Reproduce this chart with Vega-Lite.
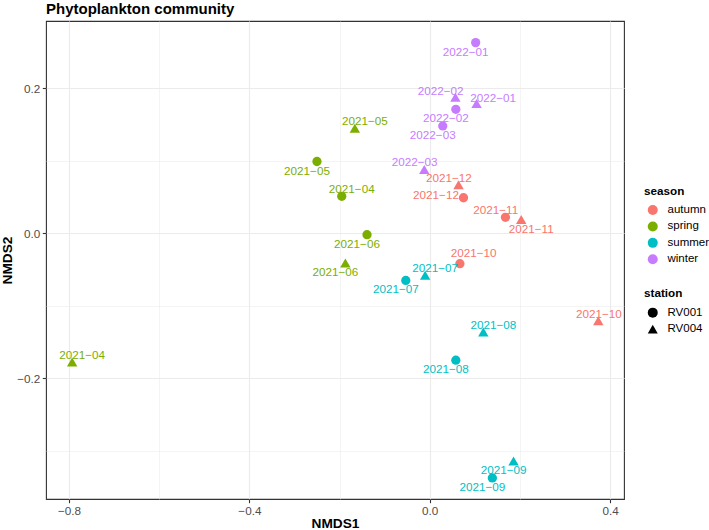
{
  "$schema": "https://vega.github.io/schema/vega-lite/v6.json",
  "width": 578,
  "height": 478,
  "autosize": {"type": "none"},
  "padding": {"left": 46, "top": 21, "right": 85, "bottom": 31},
  "background": "white",
  "title": {
    "text": "Phytoplankton community",
    "anchor": "start",
    "frame": "group",
    "orient": "top",
    "fontSize": 15,
    "fontWeight": "bold",
    "color": "#000000",
    "baseline": "alphabetic",
    "offset": -8
  },
  "data": {
    "values": [
      {"station": "RV001", "season": "spring", "month": "2021−04", "NMDS1": -0.195, "NMDS2": 0.051},
      {"station": "RV001", "season": "spring", "month": "2021−05", "NMDS1": -0.250, "NMDS2": 0.099},
      {"station": "RV001", "season": "spring", "month": "2021−06", "NMDS1": -0.139, "NMDS2": -0.002},
      {"station": "RV001", "season": "summer", "month": "2021−07", "NMDS1": -0.053, "NMDS2": -0.065},
      {"station": "RV001", "season": "summer", "month": "2021−08", "NMDS1": 0.058, "NMDS2": -0.175},
      {"station": "RV001", "season": "summer", "month": "2021−09", "NMDS1": 0.139, "NMDS2": -0.3375},
      {"station": "RV001", "season": "autumn", "month": "2021−10", "NMDS1": 0.067, "NMDS2": -0.042},
      {"station": "RV001", "season": "autumn", "month": "2021−11", "NMDS1": 0.168, "NMDS2": 0.022},
      {"station": "RV001", "season": "autumn", "month": "2021−12", "NMDS1": 0.075, "NMDS2": 0.049},
      {"station": "RV001", "season": "winter", "month": "2022−01", "NMDS1": 0.102, "NMDS2": 0.263},
      {"station": "RV001", "season": "winter", "month": "2022−02", "NMDS1": 0.058, "NMDS2": 0.171},
      {"station": "RV001", "season": "winter", "month": "2022−03", "NMDS1": 0.029, "NMDS2": 0.148},
      {"station": "RV004", "season": "spring", "month": "2021−04", "NMDS1": -0.793, "NMDS2": -0.1775},
      {"station": "RV004", "season": "spring", "month": "2021−05", "NMDS1": -0.166, "NMDS2": 0.145},
      {"station": "RV004", "season": "spring", "month": "2021−06", "NMDS1": -0.187, "NMDS2": -0.041},
      {"station": "RV004", "season": "summer", "month": "2021−07", "NMDS1": -0.010, "NMDS2": -0.058},
      {"station": "RV004", "season": "summer", "month": "2021−08", "NMDS1": 0.119, "NMDS2": -0.136},
      {"station": "RV004", "season": "summer", "month": "2021−09", "NMDS1": 0.186, "NMDS2": -0.314},
      {"station": "RV004", "season": "autumn", "month": "2021−10", "NMDS1": 0.374, "NMDS2": -0.1205},
      {"station": "RV004", "season": "autumn", "month": "2021−11", "NMDS1": 0.203, "NMDS2": 0.019},
      {"station": "RV004", "season": "autumn", "month": "2021−12", "NMDS1": 0.064, "NMDS2": 0.067},
      {"station": "RV004", "season": "winter", "month": "2022−01", "NMDS1": 0.104, "NMDS2": 0.179},
      {"station": "RV004", "season": "winter", "month": "2022−02", "NMDS1": 0.057, "NMDS2": 0.1876},
      {"station": "RV004", "season": "winter", "month": "2022−03", "NMDS1": -0.012, "NMDS2": 0.088}
    ]
  },
  "encoding": {
    "x": {
      "field": "NMDS1",
      "type": "quantitative",
      "title": "NMDS1",
      "scale": {"domain": [-0.851, 0.431], "nice": false, "zero": false},
      "axis": {
        "values": [-0.8, -0.6, -0.4, -0.2, 0, 0.2, 0.4],
        "format": ".1f",
        "labelExpr": "round(datum.value * 10) % 4 == 0 ? datum.label : ''",
        "gridWidth": {"condition": {"test": "round(datum.value * 10) % 4 == 0", "value": 1.1}, "value": 0.55},
        "tickOpacity": {"condition": {"test": "round(datum.value * 10) % 4 == 0", "value": 1}, "value": 0},
        "titlePadding": 0
      }
    },
    "y": {
      "field": "NMDS2",
      "type": "quantitative",
      "title": "NMDS2",
      "scale": {"domain": [-0.3665, 0.2928], "nice": false, "zero": false},
      "axis": {
        "values": [-0.3, -0.2, -0.1, 0, 0.1, 0.2],
        "format": ".1f",
        "labelExpr": "round(datum.value * 10) % 2 == 0 ? datum.label : ''",
        "gridWidth": {"condition": {"test": "round(datum.value * 10) % 2 == 0", "value": 1.1}, "value": 0.55},
        "tickOpacity": {"condition": {"test": "round(datum.value * 10) % 2 == 0", "value": 1}, "value": 0},
        "titlePadding": 2.5
      }
    },
    "color": {
      "field": "season",
      "type": "nominal",
      "title": "season",
      "scale": {
        "domain": ["autumn", "spring", "summer", "winter"],
        "range": ["#F8766D", "#7CAE00", "#00BFC4", "#C77CFF"]
      },
      "legend": {
        "orient": "none",
        "legendX": 598,
        "legendY": 164.6,
        "symbolType": "circle",
        "symbolSize": 100,
        "symbolStrokeWidth": 0,
        "symbolOffset": 3,
        "titlePadding": 7,
        "rowPadding": 3.4
      }
    }
  },
  "layer": [
    {
      "mark": {"type": "point", "filled": true, "opacity": 1, "color": "#000000", "strokeWidth": 0},
      "encoding": {
        "shape": {
          "field": "station",
          "type": "nominal",
          "title": "station",
          "scale": {"domain": ["RV001", "RV004"], "range": ["circle", "triangle-up"]},
          "legend": {
            "orient": "none",
            "legendX": 598,
            "legendY": 267.2,
            "symbolSize": 100,
            "symbolFillColor": "#000000",
            "symbolStrokeColor": "#000000",
            "symbolStrokeWidth": 0,
            "symbolOffset": 3,
            "titlePadding": 7,
            "rowPadding": 3.4
          }
        },
        "size": {"condition": {"test": "datum.station == 'RV004'", "value": 108}, "value": 86}
      }
    },
    {
      "transform": [{"filter": "indexof(['RV004 2021−07', 'RV004 2021−05', 'RV001 2021−04', 'RV004 2021−04', 'RV004 2021−08'], datum.station + ' ' + datum.month) >= 0"}],
      "mark": {"type": "text", "align": "center", "baseline": "middle", "fontSize": 11.7, "dx": 10, "dy": -7},
      "encoding": {"text": {"field": "month"}}
    },
    {
      "transform": [{"filter": "datum.station == 'RV001' && datum.month == '2021−10'"}],
      "mark": {"type": "text", "align": "center", "baseline": "middle", "fontSize": 11.7, "dx": 13.7, "dy": -10.4},
      "encoding": {"text": {"field": "month"}}
    },
    {
      "transform": [{"filter": "datum.station == 'RV004' && datum.month == '2022−01'"}],
      "mark": {"type": "text", "align": "center", "baseline": "middle", "fontSize": 11.7, "dx": 16.5, "dy": -6},
      "encoding": {"text": {"field": "month"}}
    },
    {
      "transform": [{"filter": "indexof(['RV004 2022−03', 'RV004 2021−12', 'RV001 2021−11'], datum.station + ' ' + datum.month) >= 0"}],
      "mark": {"type": "text", "align": "center", "baseline": "middle", "fontSize": 11.7, "dx": -9.7, "dy": -7},
      "encoding": {"text": {"field": "month"}}
    },
    {
      "transform": [{"filter": "datum.station == 'RV004' && datum.month == '2022−02'"}],
      "mark": {"type": "text", "align": "center", "baseline": "middle", "fontSize": 11.7, "dx": -14.7, "dy": -6.3},
      "encoding": {"text": {"field": "month"}}
    },
    {
      "transform": [{"filter": "indexof(['RV001 2022−01', 'RV001 2022−02', 'RV001 2022−03', 'RV001 2021−07', 'RV001 2021−05', 'RV001 2021−06', 'RV004 2021−06', 'RV001 2021−08', 'RV004 2021−09', 'RV001 2021−09'], datum.station + ' ' + datum.month) >= 0"}],
      "mark": {"type": "text", "align": "center", "baseline": "middle", "fontSize": 11.7, "dx": -10, "dy": 9},
      "encoding": {"text": {"field": "month"}}
    },
    {
      "transform": [{"filter": "datum.station == 'RV004' && datum.month == '2021−11'"}],
      "mark": {"type": "text", "align": "center", "baseline": "middle", "fontSize": 11.7, "dx": 10, "dy": 9.7},
      "encoding": {"text": {"field": "month"}}
    },
    {
      "transform": [{"filter": "datum.station == 'RV001' && datum.month == '2021−12'"}],
      "mark": {"type": "text", "align": "center", "baseline": "middle", "fontSize": 11.7, "dx": -27.5, "dy": -3},
      "encoding": {"text": {"field": "month"}}
    },
    {
      "transform": [{"filter": "datum.station == 'RV004' && datum.month == '2021−10'"}],
      "mark": {"type": "text", "align": "center", "baseline": "middle", "fontSize": 11.7, "dx": 0.5, "dy": -6.4},
      "encoding": {"text": {"field": "month"}}
    }
  ],
  "config": {
    "font": "Liberation Sans",
    "view": {"stroke": "#333333", "strokeWidth": 1.1},
    "axis": {
      "domain": false,
      "grid": true,
      "gridColor": "#EBEBEB",
      "ticks": true,
      "tickColor": "#333333",
      "tickSize": 3.7,
      "tickWidth": 1.1,
      "labelColor": "#4D4D4D",
      "labelFontSize": 11.7,
      "labelFont": "Liberation Sans",
      "labelPadding": 2.5,
      "labelOverlap": false,
      "labelFlush": false,
      "titleFont": "Liberation Sans",
      "titleFontSize": 13.7,
      "titleFontWeight": "bold",
      "titleColor": "#000000"
    },
    "legend": {
      "titleFont": "Liberation Sans",
      "titleFontSize": 11.7,
      "titleFontWeight": "bold",
      "titleColor": "#000000",
      "labelFont": "Liberation Sans",
      "labelFontSize": 11.5,
      "labelColor": "#000000",
      "labelOffset": 9,
      "padding": 0
    }
  }
}
